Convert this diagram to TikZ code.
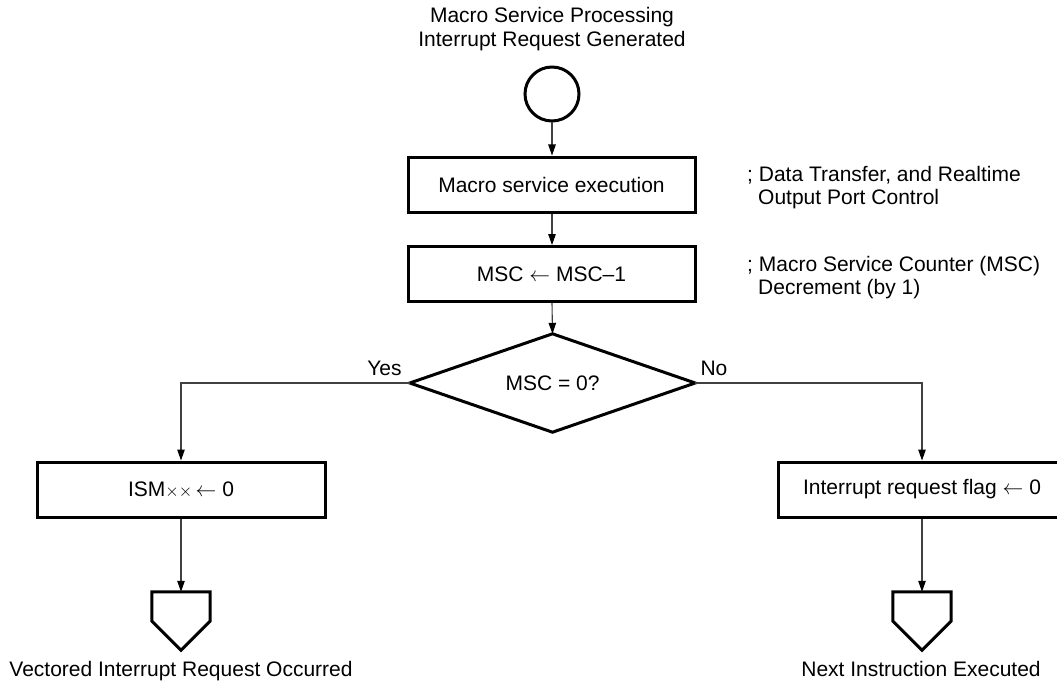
\documentclass[tikz,border=0pt]{standalone}
\usepackage{fontspec}
\setmainfont{Liberation Sans}
\usetikzlibrary{arrows.meta}
\begin{document}
\begin{tikzpicture}[x=1pt,y=-1pt,
  every node/.style={font=\fontsize{21}{24}\selectfont, inner sep=0pt},
  procbox/.style={draw=black, line width=3pt, minimum width=287pt, minimum height=55pt},
  conn/.style={draw=black!75, line width=1.1pt, -{Triangle[length=11pt,width=7.5pt,color=black]}},
  txt/.style={anchor=base},
  shapeline/.style={draw=black, line width=3pt, line join=miter}
]
\useasboundingbox (0,0) rectangle (1057,682);

\node[txt] (t1) at (552,23) {Macro Service Processing};
\node[txt] (t2) at (552,47) {Interrupt Request Generated};

\node[circle, draw=black, line width=3pt, minimum size=54pt] (start) at (552,94) {};

\node[procbox] (b1) at (551.5,184.5) {Macro service execution};
\node[procbox] (b2) at (551.5,274) {MSC $\leftarrow$ MSC\textendash 1};

\node[anchor=base west] (c1) at (747,181) {; Data Transfer, and Realtime};
\node[anchor=base west] (c2) at (758,204) {Output Port Control};
\node[anchor=base west] (c3) at (747,271) {; Macro Service Counter (MSC)};
\node[anchor=base west] (c4) at (758,294) {Decrement (by 1)};

\node[minimum width=285pt, minimum height=98pt] (d) at (552.5,383) {MSC = 0?};
\draw[shapeline] (d.west) -- (d.north) -- (d.east) -- (d.south) -- cycle;

\node[txt] (yes) at (384.5,375) {Yes};
\node[txt] (no) at (714,375) {No};

\node[procbox, minimum width=288pt] (b3) at (181,489.5) {ISM{\fontsize{16}{18}\selectfont$\mathord{\times}\mathord{\times}$}\,$\leftarrow$ 0};
\node[procbox, minimum width=288pt] (b4) at (922,489.5) {Interrupt request flag $\leftarrow$ 0};

\node[minimum width=58pt, minimum height=58pt] (e1) at (181,621) {};
\node[minimum width=58pt, minimum height=58pt] (e2) at (922,621) {};
\draw[shapeline] (e1.north west) -- (e1.north east) -- (e1.east) -- (e1.south) -- (e1.west) -- cycle;
\draw[shapeline] (e2.north west) -- (e2.north east) -- (e2.east) -- (e2.south) -- (e2.west) -- cycle;

\node[txt] (l1) at (181,676) {Vectored Interrupt Request Occurred};
\node[txt] (l2) at (921,676) {Next Instruction Executed};

\draw[conn] (start) -- (b1.north -| start);
\draw[conn] (b1.south -| start) -- (b2.north -| start);
\draw[conn] (b2.south -| start) -- (d.north);
\draw[conn] (d.west) -| (b3.north);
\draw[conn] (d.east) -| (b4.north);
\draw[conn] (b3.south) -- (e1.north);
\draw[conn] (b4.south) -- (e2.north);
\end{tikzpicture}
\end{document}
